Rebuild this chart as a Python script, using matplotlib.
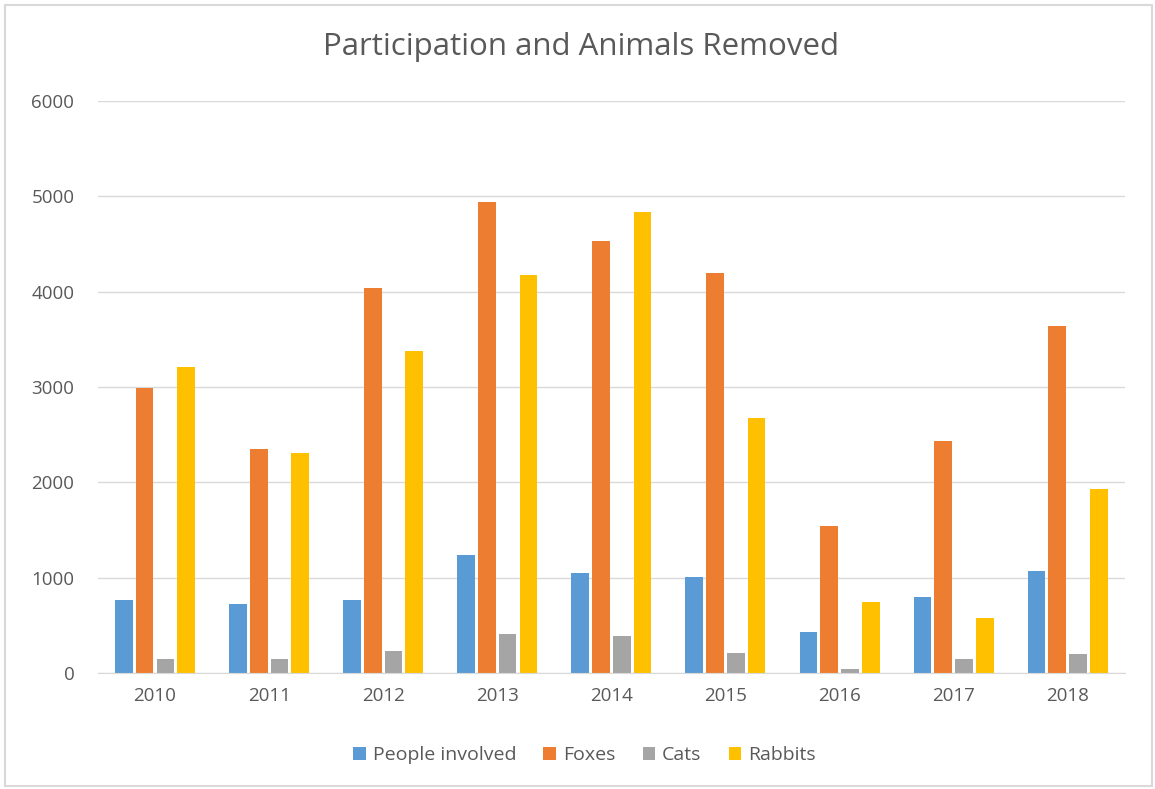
import matplotlib
matplotlib.use("Agg")
import matplotlib.pyplot as plt
import numpy as np
from matplotlib.patches import Rectangle

years = ["2010", "2011", "2012", "2013", "2014", "2015", "2016", "2017", "2018"]
people = [765, 722, 764, 1234, 1051, 1009, 435, 799, 1072]
foxes = [2990, 2349, 4035, 4942, 4532, 4200, 1543, 2429, 3642]
cats = [145, 150, 228, 414, 393, 210, 46, 147, 204]
rabbits = [3215, 2307, 3378, 4179, 4837, 2675, 740, 578, 1935]

series = [("People involved", people, "#5B9BD5"),
          ("Foxes", foxes, "#ED7D31"),
          ("Cats", cats, "#A5A5A5"),
          ("Rabbits", rabbits, "#FFC000")]

plt.rcParams['font.family'] = ['Open Sans', 'DejaVu Sans']
fig = plt.figure(figsize=(11.55, 7.89), dpi=100)
ax = fig.add_axes([0.0848, 0.147, 0.889, 0.725])

x = np.arange(len(years))
pitch = 0.182
width = 0.155
for i, (name, vals, col) in enumerate(series):
    ax.bar(x + (i - 1.5) * pitch, vals, width, color=col, label=name, zorder=3)

ax.set_xlim(-0.5, len(years) - 0.5)
ax.set_ylim(0, 6000)
ax.set_yticks(range(0, 6001, 1000))
ax.set_xticks(x)
ax.set_xticklabels(years)
ax.tick_params(axis='both', length=0, colors='#595959', labelsize=13.5)
ax.tick_params(axis='y', pad=17)
ax.tick_params(axis='x', pad=10)
ax.yaxis.grid(True, color='#D9D9D9', linewidth=1, zorder=0)
for s in ['top', 'right', 'left']:
    ax.spines[s].set_visible(False)
ax.spines['bottom'].set_color('#D9D9D9')
ax.spines['bottom'].set_zorder(4)

fig.text(0.503, 0.94, "Participation and Animals Removed", ha='center', va='center',
         fontsize=22.5, color='#595959')

leg = fig.legend(loc='center', bbox_to_anchor=(0.506, 0.043), ncol=4, frameon=False,
                 fontsize=14, handlelength=0.65, handleheight=0.65, columnspacing=1.4,
                 handletextpad=0.35)
for t in leg.get_texts():
    t.set_color('#595959')

fig.patches.append(Rectangle((0.004, 0.004), 0.993, 0.99, transform=fig.transFigure,
                             fill=False, edgecolor='#D9D9D9', linewidth=1.5))

fig.savefig("out.png", dpi=100)
